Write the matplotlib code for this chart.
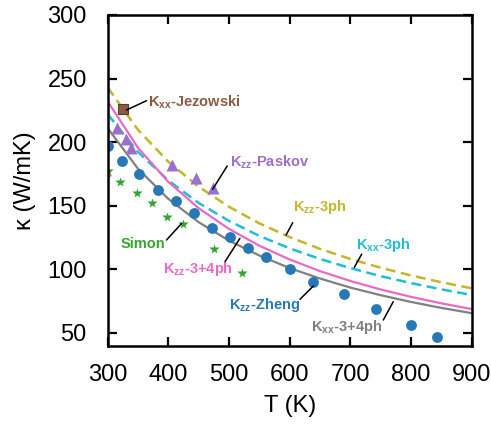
import matplotlib
matplotlib.use("Agg")
import matplotlib.pyplot as plt

plt.rcParams['font.family'] = ['Liberation Sans', 'DejaVu Sans']
plt.rcParams['mathtext.fontset'] = 'custom'
plt.rcParams['mathtext.rm'] = 'Liberation Sans'
plt.rcParams['mathtext.bf'] = 'Liberation Sans:bold'
plt.rcParams['mathtext.it'] = 'Liberation Sans:italic'

# ---- data ----
T_curve = [300, 350, 400, 450, 500, 550, 600, 650, 700, 750, 800, 850, 900]
kzz_3ph = [243, 209.7, 184.6, 165.0, 149.2, 136.2, 125.4, 116.1, 108.2, 101.3, 95.2, 89.9, 85.1]
kxx_3ph = [222, 192.3, 169.9, 152.2, 138.1, 126.3, 116.5, 108.2, 101.0, 94.7, 89.2, 84.3, 79.9]
kzz_34ph = [232, 195.6, 168.8, 148.1, 131.8, 118.6, 107.8, 98.6, 90.9, 84.2, 78.4, 73.3, 68.8]
kxx_34ph = [211, 179.1, 155.4, 137.1, 122.6, 110.9, 101.0, 92.8, 85.7, 79.7, 74.4, 69.7, 65.6]

T_zheng = [300, 323, 352, 383, 413, 442, 472, 502, 532, 561, 600, 639, 689, 743, 800, 842]
k_zheng = [197, 185.5, 174.8, 162.8, 153.8, 144.6, 132.8, 125.2, 117.1, 110.0, 100.1, 89.9, 80.4, 69.1, 56.5, 47.1]

T_simon = [300, 321, 348, 373, 397, 424, 475, 521]
k_simon = [177.4, 168.5, 160.3, 152.0, 141.0, 135.5, 115.8, 97.4]

T_paskov = [315, 331, 339, 406, 446, 473]
k_paskov = [211.2, 202.5, 195.8, 182.1, 171.5, 164.0]

T_jez = [325]
k_jez = [226]

T_other = [300]
k_other = [174]

c_yel = '#c2b62c'
c_cyan = '#22bcd6'
c_pink = '#e86ac8'
c_gray = '#808080'
c_blue = '#2878b8'
c_green = '#33a532'
c_purple = '#9b6fcd'
c_brown = '#8c5b43'

fig = plt.figure(figsize=(4.91, 4.26), dpi=100)
ax = fig.add_axes([0.2193, 0.1885, 0.7414, 0.7763])

ax.plot(T_curve, kzz_3ph, color=c_yel, lw=1.8, ls=(0, (4, 2.2)))
ax.plot(T_curve, kxx_3ph, color=c_cyan, lw=1.8, ls=(0, (4, 2.2)))
ax.plot(T_curve, kzz_34ph, color=c_pink, lw=1.6)
ax.plot(T_curve, kxx_34ph, color=c_gray, lw=1.6)

ax.plot(T_zheng, k_zheng, 'o', color=c_blue, ms=7.8, mec='none')
ax.plot(T_simon, k_simon, '*', color=c_green, ms=7.5, mec='none')
ax.plot(T_paskov, k_paskov, '^', color=c_purple, ms=8, mec='none')
ax.plot(T_jez, k_jez, 's', color=c_brown, ms=7, mec='#5a3a28', mew=0.8)
ax.plot(T_other, k_other, 'D', color='#f08030', ms=3.5, mec='none')

ax.set_xlim(300, 900)
ax.set_ylim(40, 300)
ax.set_xticks([300, 400, 500, 600, 700, 800, 900])
ax.set_yticks([50, 100, 150, 200, 250, 300])
ax.tick_params(direction='in', length=6.5, width=1.6, top=True, right=True,
               labelsize=17, pad=13)
ax.tick_params(axis='y', pad=15)
for s in ax.spines.values():
    s.set_linewidth(1.8)

ax.set_xlabel('T (K)', fontsize=17, labelpad=7)
ax.set_ylabel('κ (W/mK)', fontsize=17, labelpad=8)

fs = 10.5
def lead(p0, p1):
    ax.annotate('', xy=p0, xytext=p1,
                arrowprops=dict(arrowstyle='-', color='black', lw=1.1,
                                shrinkA=0, shrinkB=0))

def label(x, y, text, color, ha='left'):
    ax.text(x, y, text, color=color, fontsize=fs, fontweight='bold',
            ha=ha, va='center')

lead((331, 225.3), (364, 232.6))
label(366, 231.6, r'$\mathbf{K_{xx}}$-Jezowski', c_brown)

lead((473, 163), (497, 181.3))
label(502, 184.2, r'$\mathbf{K_{zz}}$-Paskov', c_purple)

lead((594, 127), (605, 136.7))
label(605, 149.3, r'$\mathbf{K_{zz}}$-3ph', c_yel)

lead((706.5, 101.6), (718.7, 112))
label(710, 119.2, r'$\mathbf{K_{xx}}$-3ph', c_cyan)

lead((770.7, 74.6), (754.3, 60.2))
label(752, 55, r'$\mathbf{K_{xx}}$-3+4ph', c_gray, ha='right')

lead((638.9, 86.9), (617, 76.5))
label(617, 72, r'$\mathbf{K_{zz}}$-Zheng', c_blue, ha='right')

lead((422, 136.2), (397, 123.1))
label(395, 119.7, 'Simon', c_green, ha='right')

lead((518, 124.4), (493.3, 106))
label(507, 100.6, r'$\mathbf{K_{zz}}$-3+4ph', c_pink, ha='right')

fig.savefig('out.png', dpi=100)
